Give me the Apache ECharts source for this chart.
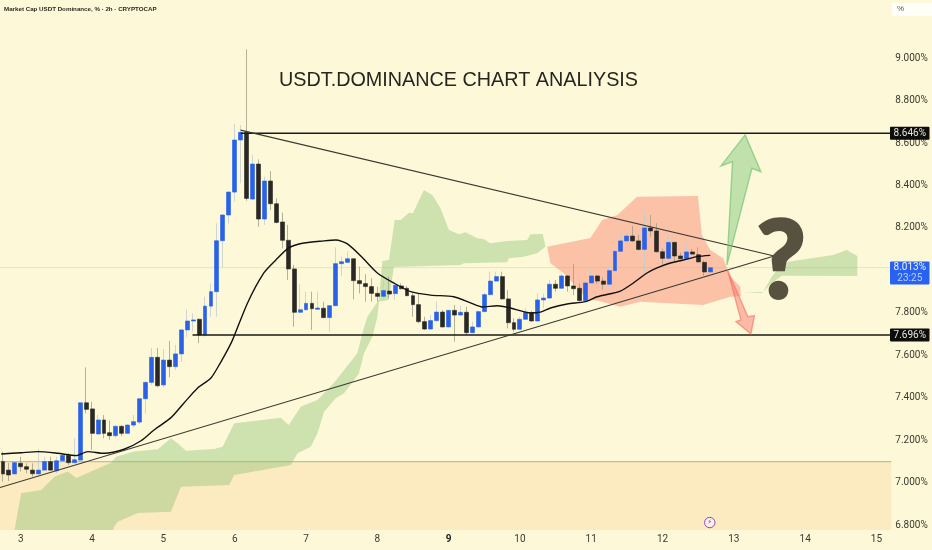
<!DOCTYPE html>
<html><head><meta charset="utf-8">
<style>html,body{margin:0;padding:0;background:#fdf9d8}#c{width:932px;height:550px}</style>
<script src="https://cdn.jsdelivr.net/npm/echarts@6/dist/echarts.min.js"></script>
</head><body><div id="c"></div>
<script>
const dayLabels=['3','4','5','6','7','8','9','10','11','12','13','14','15'];
const yTicks=[6.8,7,7.2,7.4,7.6,7.8,8,8.2,8.4,8.6,8.8,9];
const opens=[7.100,7.060,7.042,7.092,7.076,7.060,7.042,7.060,7.100,7.057,7.104,7.129,7.095,7.107,7.377,7.348,7.230,7.296,7.236,7.222,7.266,7.233,7.272,7.286,7.396,7.473,7.591,7.461,7.578,7.547,7.607,7.720,7.762,7.770,7.696,7.832,7.900,8.140,8.261,8.369,8.614,8.650,8.336,8.501,8.242,8.421,8.314,8.228,8.142,8.007,7.803,7.815,7.845,7.817,7.822,7.778,7.834,8.032,8.038,8.055,7.952,7.938,7.924,7.892,7.878,7.903,7.891,7.927,7.916,7.881,7.839,7.759,7.724,7.764,7.804,7.734,7.812,7.790,7.803,7.707,7.734,7.806,7.886,7.950,7.971,7.866,7.754,7.723,7.770,7.801,7.762,7.861,7.870,7.935,7.916,7.974,7.927,7.916,7.858,7.941,7.974,7.950,7.935,7.999,8.090,8.139,8.162,8.139,8.099,8.200,8.186,8.088,8.057,8.132,8.068,8.055,8.087,8.074,8.038,7.993];
const closes=[7.042,7.037,7.095,7.076,7.064,7.043,7.060,7.100,7.060,7.104,7.129,7.095,7.109,7.377,7.346,7.233,7.296,7.233,7.222,7.266,7.233,7.272,7.288,7.396,7.473,7.591,7.457,7.578,7.547,7.607,7.720,7.762,7.767,7.696,7.832,7.900,8.140,8.261,8.369,8.614,8.650,8.339,8.501,8.242,8.421,8.314,8.226,8.142,8.007,7.803,7.815,7.845,7.820,7.823,7.778,7.834,8.032,8.041,8.055,7.952,7.938,7.924,7.892,7.878,7.905,7.889,7.930,7.914,7.881,7.839,7.759,7.724,7.764,7.804,7.734,7.812,7.790,7.803,7.707,7.734,7.806,7.886,7.950,7.971,7.866,7.754,7.723,7.770,7.803,7.762,7.861,7.870,7.935,7.916,7.974,7.927,7.914,7.858,7.941,7.974,7.950,7.935,7.999,8.090,8.139,8.162,8.139,8.099,8.200,8.186,8.088,8.057,8.132,8.068,8.055,8.087,8.077,8.040,7.993,8.013];
const lows=[7.006,7.009,7.042,7.053,7.045,7.029,7.040,7.058,7.057,7.045,7.100,7.084,7.092,7.105,7.327,7.155,7.228,7.210,7.202,7.214,7.220,7.230,7.261,7.277,7.327,7.461,7.450,7.450,7.497,7.531,7.570,7.688,7.712,7.658,7.688,7.782,7.782,8.015,8.222,8.324,8.410,8.328,8.332,8.206,8.214,8.284,8.222,8.104,7.955,7.735,7.800,7.811,7.720,7.817,7.775,7.712,7.832,7.975,8.035,7.864,7.892,7.853,7.853,7.853,7.861,7.869,7.861,7.911,7.880,7.782,7.751,7.720,7.723,7.759,7.731,7.732,7.665,7.789,7.696,7.704,7.732,7.804,7.884,7.947,7.861,7.727,7.712,7.722,7.767,7.759,7.760,7.822,7.869,7.900,7.914,7.900,7.884,7.853,7.857,7.939,7.936,7.908,7.920,7.997,8.088,8.135,8.135,8.093,7.979,8.159,8.084,8.021,8.055,8.041,8.052,8.052,8.073,8.038,7.974,7.989];
const highs=[7.147,7.094,7.100,7.123,7.092,7.092,7.159,7.123,7.123,7.123,7.135,7.139,7.210,7.377,7.544,7.382,7.319,7.319,7.293,7.272,7.272,7.277,7.319,7.396,7.478,7.635,7.635,7.630,7.668,7.649,7.720,7.817,7.798,7.775,7.876,7.939,8.222,8.265,8.373,8.690,8.685,9.041,8.543,8.523,8.441,8.468,8.339,8.272,8.214,8.026,7.934,7.900,7.900,7.900,7.853,7.836,8.109,8.065,8.091,8.057,8.018,7.982,7.963,7.924,7.955,7.971,7.932,7.939,7.927,7.895,7.892,7.782,7.790,7.853,7.814,7.814,7.837,7.833,7.829,7.759,7.807,7.895,7.994,7.994,7.994,7.908,7.775,7.782,7.822,7.810,7.892,7.892,7.955,7.955,7.986,7.979,8.030,7.939,7.947,8.002,7.979,7.968,8.021,8.096,8.179,8.175,8.209,8.167,8.274,8.261,8.222,8.104,8.162,8.135,8.084,8.131,8.101,8.109,8.049,8.037];
const emaPoints=[[0.20,7.136],[3.56,7.142],[6.37,7.147],[9.73,7.139],[12.81,7.128],[14.77,7.147],[17.51,7.139],[20.87,7.158],[23.73,7.198],[25.92,7.249],[28.77,7.307],[30.96,7.376],[33.26,7.447],[35.50,7.494],[37.18,7.570],[38.30,7.626],[39.14,7.673],[41.66,7.847],[44.40,7.988],[46.42,8.049],[48.60,8.106],[51.13,8.129],[54.49,8.139],[56.50,8.143],[58.47,8.125],[61.21,8.054],[63.51,7.988],[66.25,7.941],[69.11,7.900],[72.47,7.884],[76.34,7.876],[79.19,7.847],[81.16,7.828],[83.68,7.834],[85.92,7.823],[89.28,7.800],[90.96,7.804],[92.64,7.823],[95.45,7.842],[98.52,7.853],[100.49,7.876],[104.40,7.903],[106.59,7.941],[108.89,7.988],[110.57,8.012],[112.81,8.035],[115.00,8.049],[117.29,8.065],[119.53,8.071]];
const cloudGreen=[[2.44,6.778],[3.56,6.951],[6.92,6.966],[9.16,7.029],[11.41,7.053],[12.81,7.023],[18.69,7.094],[19.53,7.123],[22.55,7.147],[26.54,7.158],[28.77,7.210],[29.90,7.186],[31.29,7.151],[36.00,7.159],[37.46,7.170],[39.41,7.280],[43.34,7.293],[47.26,7.307],[48.60,7.272],[50.62,7.359],[53.43,7.390],[56.17,7.470],[60.15,7.611],[60.99,7.706],[61.83,7.782],[63.73,7.861],[64.35,8.045],[65.46,8.049],[66.42,8.238],[67.43,8.238],[68.77,8.271],[69.50,8.271],[71.34,8.379],[72.76,8.355],[74.15,8.293],[75.55,8.190],[77.23,8.170],[78.35,8.180],[80.32,8.151],[81.43,8.148],[82.55,8.128],[85.36,8.139],[88.72,8.143],[89.28,8.170],[91.34,8.172],[91.80,8.112],[90.40,8.081],[88.15,8.065],[85.63,8.057],[85.36,8.038],[78.07,8.034],[77.51,8.026],[66.30,8.016],[65.41,7.861],[63.78,7.853],[63.51,7.782],[62.67,7.688],[61.26,7.610],[60.42,7.516],[57.90,7.422],[56.50,7.398],[54.54,7.335],[53.43,7.233],[52.30,7.170],[50.07,7.139],[48.94,7.084],[39.41,7.037],[38.57,6.990],[30.45,6.982],[28.77,6.864],[23.18,6.858],[19.82,6.817],[19.19,6.792],[19.03,6.778]];
const cloudRed=[[92.08,8.112],[99.36,8.153],[101.33,8.238],[103.90,8.261],[107.21,8.347],[117.46,8.351],[118.13,8.167],[119.53,8.096],[121.71,8.057],[122.89,7.971],[124.57,7.924],[124.69,7.880],[122.89,7.876],[118.35,7.837],[107.76,7.853],[104.40,7.829],[100.49,7.858],[99.03,7.861],[94.82,7.988],[92.64,8.034]];
const cloudFuture=[[125.08,7.894],[128.44,7.900],[129.90,7.971],[131.29,8.018],[132.64,8.041],[140.20,8.073],[142.50,8.096],[144.29,8.068],[144.29,7.974],[131.58,7.975],[129.90,7.941],[128.22,7.894]];
const supplyBand=[[0,7.1],[150,7.1],[150,6.778],[0,6.778]];
const arrowUp=[[125.41,8.638],[128.05,8.465],[126.54,8.481],[122.34,8.026],[123.28,8.512],[121.33,8.492]];
const arrowDown=[[122.44,8.002],[124.69,7.767],[123.85,7.759],[126.37,7.701],[126.97,7.787],[125.87,7.782]];
const trendDown=[[40.49,8.661],[130.29,8.068]];
const trendUp=[[0,6.978],[130.29,8.068]];
const resistance=[[40.5,8.646],[150,8.646]];
const support=[[32.4,7.696],[150,7.696]];
const band710=[[0,7.1],[150,7.1]];
const lastLine=[[0,8.013],[150,8.013]];
const priceTags=[8.646,7.696];
const lastPrice=8.013, countdown='23:25';

const categories=Array.from({length:150},()=>'');
dayLabels.forEach((d,k)=>{categories[3+12*k]=d;});
const N=opens.length;
const ohlc=[],bodies=[];
for(let i=0;i<N;i++){
  ohlc.push([opens[i],closes[i],lows[i],highs[i]]);
  bodies.push([opens[i],closes[i],Math.min(opens[i],closes[i]),Math.max(opens[i],closes[i])]);
}
function poly(name,pts,style,z){
  return {name,type:'custom',xAxisIndex:1,yAxisIndex:0,z,clip:false,silent:true,
    data:[pts[0]],encode:{x:0,y:1},
    renderItem(p,api){return {type:'polygon',shape:{points:pts.map(q=>api.coord(q))},style};}};
}
function line(name,data,color,width,z,smooth){
  return {name,type:'line',xAxisIndex:1,yAxisIndex:0,data,z,symbol:'none',silent:true,smooth:smooth||false,
    lineStyle:{color,width},itemStyle:{color}};
}
const option={
  animation:false,
  backgroundColor:'#fdf9d8',
  grid:{left:-1.2,top:15.56,width:892.5,height:509.76},
  xAxis:[
    {type:'category',data:categories,boundaryGap:true,axisLine:{show:false},axisTick:{show:false},splitLine:{show:false},
     axisLabel:{interval:0,margin:9,fontSize:10,fontFamily:'Roboto,Liberation Sans',color:'#3a3a30',
       formatter:v=>v==='9'?'{b|9}':v,rich:{b:{fontWeight:'bold',fontSize:10,color:'#222'}}}},
    {type:'value',min:0,max:150,show:false,splitLine:{show:false}}
  ],
  yAxis:{type:'value',position:'right',min:6.8,max:9.2,interval:0.2,axisLine:{show:false},axisTick:{show:false},splitLine:{show:false},
    axisLabel:{margin:4,fontSize:10,padding:[2,0,0,0],fontFamily:'Roboto,Liberation Sans',color:'#3a3a30',
      formatter:v=>yTicks.some(t=>Math.abs(t-v)<1e-6)?v.toFixed(3)+'%':''}},
  graphic:[
    {type:'text',left:4,top:6,z:20,style:{text:'Market Cap USDT Dominance, % · 2h · CRYPTOCAP',font:'bold 6.2px "Liberation Sans"',fill:'#2a2a22'}},
    {type:'rect',left:892,top:3,z:20,shape:{width:40,height:13},style:{fill:'#ffffff',opacity:.85}},
    {type:'text',left:897,top:5,z:21,style:{text:'%',font:'8px "Liberation Sans"',fill:'#555'}},
    {type:'text',left:279,top:71,z:20,style:{text:'USDT.DOMINANCE CHART ANALIYSIS',font:'19.8px "Liberation Sans"',fill:'#26261f'}},
    {type:'text',left:755,top:208,z:15,style:{text:'?',font:'900 108px Lato',fill:'#575240',stroke:'#575240',lineWidth:2}}
  ],
  series:[
    poly('supply',supplyBand,{fill:'#fcebc0'},1),
    line('level7.1',band710,'#c2c093',1.2,2),
    line('last',lastLine,'#e6e3c2',1,2),
    poly('cloudGreen',cloudGreen,{fill:'rgba(130,190,110,0.38)'},3),
    poly('cloudRed',cloudRed,{fill:'rgba(250,140,120,0.5)'},3),
    poly('cloudFuture',cloudFuture,{fill:'rgba(130,190,110,0.38)'},3),
    {name:'wicks',type:'candlestick',xAxisIndex:0,yAxisIndex:0,data:ohlc,barWidth:1,z:5,silent:true,
      itemStyle:{color:'#c3ccd0',color0:'#a09f88',borderColor:'#c3ccd0',borderColor0:'#a09f88',borderWidth:0.8}},
    {name:'bodies',type:'candlestick',xAxisIndex:0,yAxisIndex:0,data:bodies,barWidth:4.4,z:6,silent:true,
      itemStyle:{color:'#2962e8',color0:'#2a2824',borderColor:'#2962e8',borderColor0:'#2a2824',borderWidth:0.6}},
    line('resistance',resistance,'#1a1a16',1.5,7),
    line('support',support,'#1a1a16',1.5,7),
    line('trendDown',trendDown,'#3a3a32',1.2,7),
    line('trendUp',trendUp,'#3a3a32',1.2,7),
    line('ema',emaPoints,'#111',1.4,8,0.25),
    poly('arrowUp',arrowUp,{fill:'rgba(120,195,120,0.45)',stroke:'rgba(120,195,120,0.7)',lineWidth:1.4},9),
    poly('arrowDown',arrowDown,{fill:'rgba(245,110,100,0.45)',stroke:'rgba(245,110,100,0.6)',lineWidth:1.4},9),
    {name:'tags',type:'custom',xAxisIndex:1,yAxisIndex:0,z:12,clip:false,silent:true,
      data:priceTags.map(v=>[150,v]),encode:{x:0,y:1},
      renderItem(p,api){
        const pt=api.coord([api.value(0),api.value(1)]);
        return {type:'group',children:[
          {type:'rect',shape:{x:pt[0]-1.3,y:pt[1]-6.5,width:39.5,height:13,r:1},style:{fill:'#0d0d0b'}},
          {type:'text',style:{x:pt[0]+18.5,y:pt[1],text:api.value(1).toFixed(3)+'%',font:'10px Roboto',fill:'#e6e6de',textAlign:'center',textVerticalAlign:'middle'}}
        ]};
      }},
    {name:'lastTag',type:'custom',xAxisIndex:1,yAxisIndex:0,z:12,clip:false,silent:true,
      data:[[150,lastPrice]],encode:{x:0,y:1},
      renderItem(p,api){
        const pt=api.coord([api.value(0),api.value(1)]);
        return {type:'group',children:[
          {type:'rect',shape:{x:pt[0]-1.3,y:pt[1]-6.2,width:39.5,height:23,r:1},style:{fill:'#2962f0'}},
          {type:'text',style:{x:pt[0]+18.5,y:pt[1],text:lastPrice.toFixed(3)+'%',font:'10px Roboto',fill:'#eef2ff',textAlign:'center',textVerticalAlign:'middle'}},
          {type:'text',style:{x:pt[0]+18.5,y:pt[1]+11,text:countdown,font:'10px Roboto',fill:'#bcd0ff',textAlign:'center',textVerticalAlign:'middle'}}
        ]};
      }},
    {name:'icon',type:'custom',xAxisIndex:1,yAxisIndex:0,z:12,clip:false,silent:true,
      data:[[119.45,6.813]],encode:{x:0,y:1},
      renderItem(p,api){
        const pt=api.coord([api.value(0),api.value(1)]);
        return {type:'group',children:[
          {type:'circle',shape:{cx:pt[0],cy:pt[1],r:5.2},style:{fill:'#fdf2e0',stroke:'#8e44c4',lineWidth:1}},
          {type:'text',style:{x:pt[0],y:pt[1],text:'⚡',font:'7px "DejaVu Sans"',fill:'#8e44c4',textAlign:'center',textVerticalAlign:'middle'}}
        ]};
      }}
  ]
};
const chart=echarts.init(document.getElementById('c'),null,{renderer:'canvas'});
chart.setOption(option);
</script></body></html>
